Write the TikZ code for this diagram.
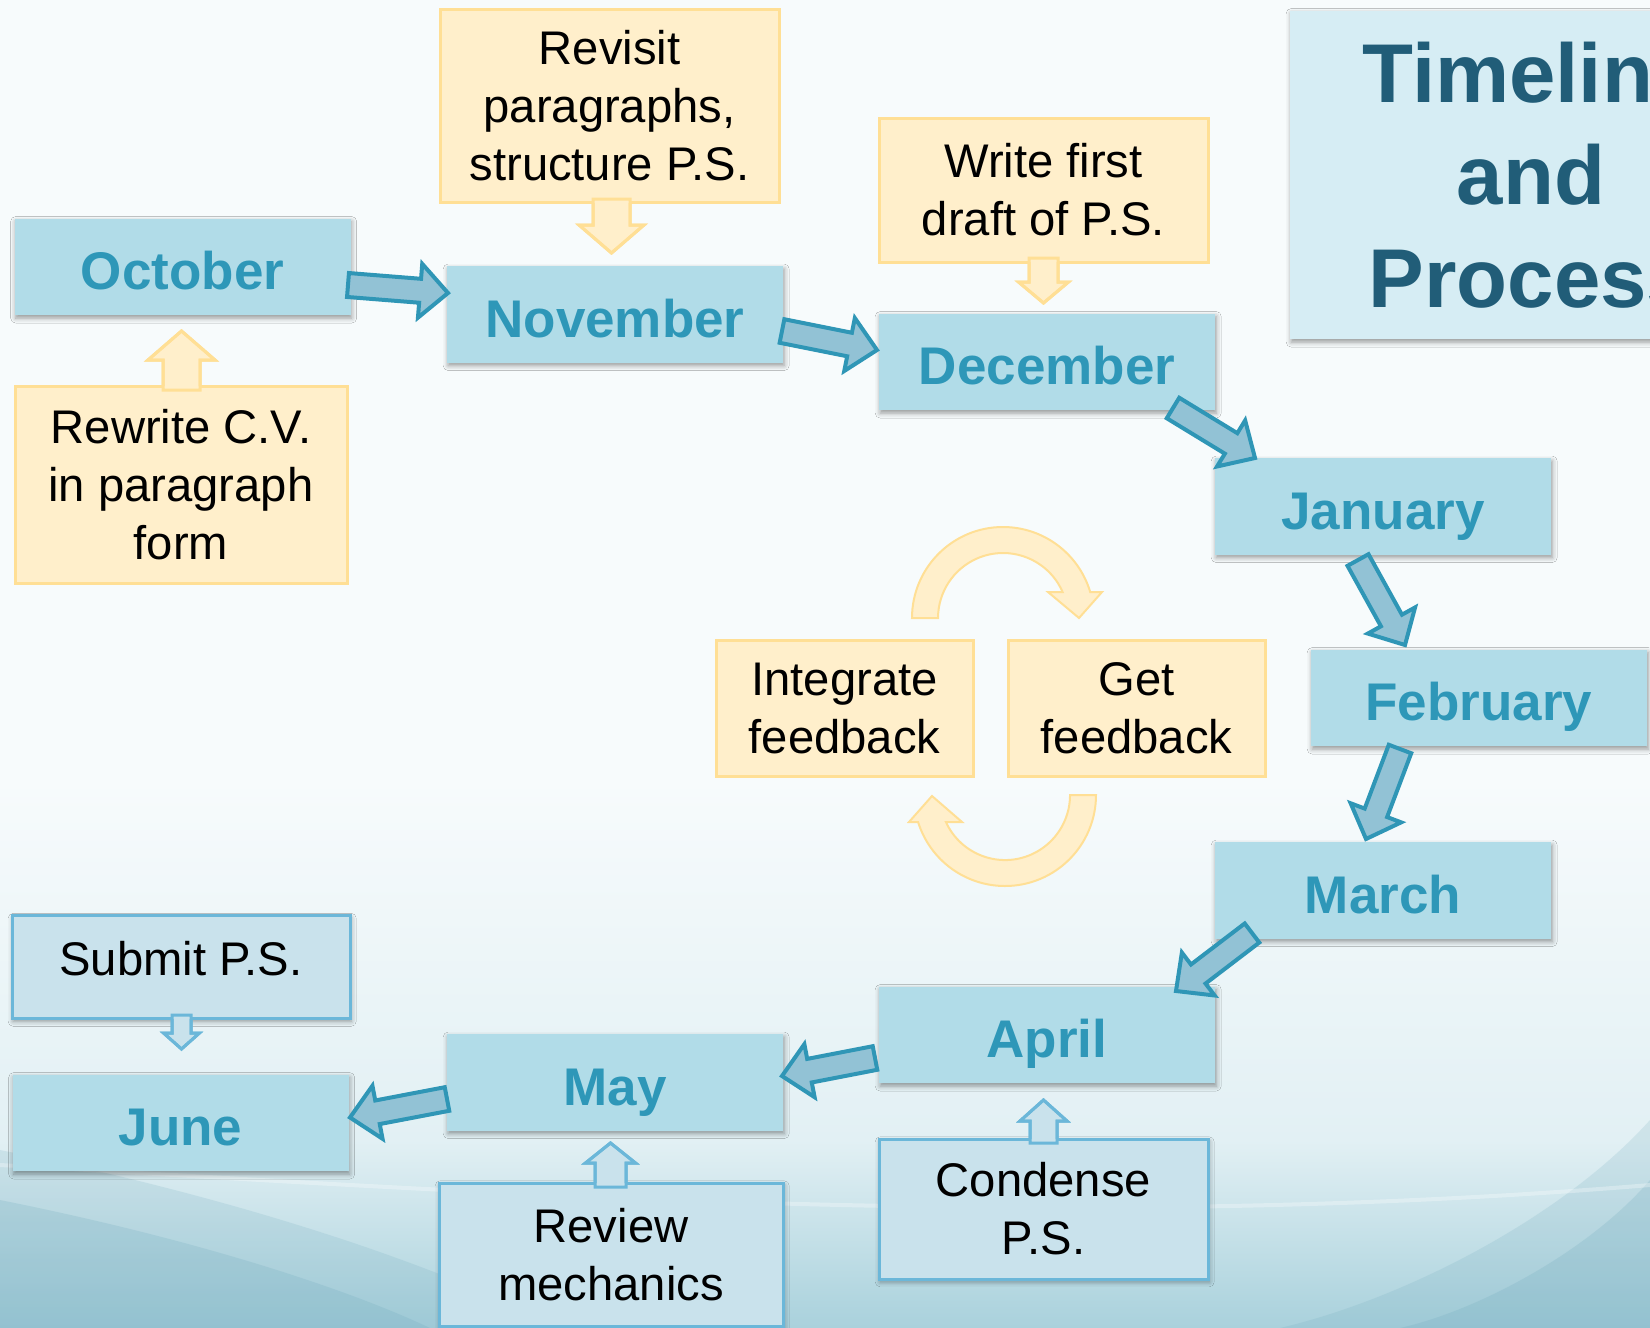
\documentclass[tikz,border=0pt]{standalone}
\usepackage{fontspec}
\setmainfont{Liberation Sans}
\usetikzlibrary{calc,shadows.blur}
\definecolor{monthfill}{HTML}{B1DCE8}
\definecolor{monthtext}{HTML}{2E97B8}
\definecolor{arrfill}{HTML}{92C2D5}
\definecolor{arrdraw}{HTML}{2F96B6}
\definecolor{notefill}{HTML}{FFEFCB}
\definecolor{notedraw}{HTML}{FFDF95}
\definecolor{bnotefill}{HTML}{C9E2EC}
\definecolor{bnotedraw}{HTML}{6BB7D9}
\definecolor{titlefill}{HTML}{D6EDF4}
\definecolor{titletext}{HTML}{215D78}
\definecolor{bgtop}{HTML}{F7FBFC}
\definecolor{bgmid}{HTML}{E2F0F4}
\definecolor{bgbot}{HTML}{A9D1DC}
\definecolor{bgdark}{HTML}{6FA9BC}
\newcommand\bigarrow[2]{%
  \path ($(#2)!14pt!(#1)$) coordinate (ah);
  \filldraw[bigarr] ($(#1)!6pt!90:(#2)$) -- ($(ah)!6pt!90:(#2)$) -- ($(ah)!13.5pt!90:(#2)$) -- (#2)
    -- ($(ah)!13.5pt!-90:(#2)$) -- ($(ah)!6pt!-90:(#2)$) -- ($(#1)!6pt!-90:(#2)$) -- cycle;}
\newcommand\smallarrow[6]{%
  \path ($(#3)!#6!(#2)$) coordinate (ah) ($(#2)!-2pt!(#3)$) coordinate (at);
  \fill[#1] ($(at)!#4!90:(#3)$) -- ($(ah)!#4!90:(#3)$) -- ($(ah)!#5!90:(#3)$) -- (#3)
    -- ($(ah)!#5!-90:(#3)$) -- ($(ah)!#4!-90:(#3)$) -- ($(at)!#4!-90:(#3)$) -- cycle;
  \draw[#1,fill=none] ($(#2)!#4!90:(#3)$) -- ($(ah)!#4!90:(#3)$) -- ($(ah)!#5!90:(#3)$) -- (#3)
    -- ($(ah)!#5!-90:(#3)$) -- ($(ah)!#4!-90:(#3)$) -- ($(#2)!#4!-90:(#3)$);}
\begin{document}
\begin{tikzpicture}[x=0.5pt,y=-0.5pt,
  boxshadow/.style={blur shadow={shadow xshift=0.6pt, shadow yshift=-1.4pt, shadow blur radius=2.5pt, shadow opacity=40}},
  month/.style={rectangle, inner sep=0pt, minimum width=168pt, minimum height=48.25pt, fill=monthfill,
    font=\bfseries\fontsize{26.5pt}{32pt}\selectfont, text=monthtext, text height=22.5pt, text depth=0pt, boxshadow},
  note/.style={rectangle, inner sep=0pt, fill=notefill, draw=notedraw, line width=1.5pt, align=center,
    font=\fontsize{23.6pt}{29pt}\selectfont, text=black},
  bnote/.style={rectangle, inner sep=0pt, fill=bnotefill, draw=bnotedraw, line width=1.5pt, align=center,
    font=\fontsize{23.6pt}{29pt}\selectfont, text=black, boxshadow},
  titlebox/.style={rectangle, inner sep=0pt, fill=titlefill, align=center, minimum width=241pt, minimum height=164.25pt,
    font=\bfseries\fontsize{41.7pt}{51.25pt}\selectfont, text=titletext, boxshadow},
  bigarr/.style={fill=arrfill, draw=arrdraw, line width=2pt, line join=miter},
  yarr/.style={fill=notefill, draw=notedraw, line width=1.5pt, line join=miter},
  barr/.style={fill=bnotefill, draw=bnotedraw, line width=1.5pt, line join=miter},
  circarr/.style={fill=notefill, draw=notedraw, line width=1pt}]
\useasboundingbox (0,0) rectangle (1650,1328);
\clip (0,0) rectangle (1650,1328);
% background
\fill[bgtop] (0,0) rectangle (1650,1328);
\shade[top color=bgtop, bottom color=bgmid] (0,780) rectangle (1650,1140.5);
\shade[top color=bgmid, bottom color=bgbot] (0,1140) rectangle (1650,1328);
\fill[bgdark, opacity=0.18] (0,1150) .. controls (250,1200) and (450,1270) .. (560,1328) -- (0,1328) -- cycle;
\fill[bgdark, opacity=0.22] (0,1200) .. controls (200,1240) and (350,1290) .. (430,1328) -- (0,1328) -- cycle;
\fill[bgdark, opacity=0.18] (1650,1120) .. controls (1560,1220) and (1400,1300) .. (1280,1328) -- (1650,1328) -- cycle;
\fill[bgdark, opacity=0.22] (1650,1180) .. controls (1590,1250) and (1480,1310) .. (1400,1328) -- (1650,1328) -- cycle;
\draw[white, opacity=0.3, line width=2pt] (0,1165) .. controls (450,1190) and (1050,1235) .. (1650,1185);

% title
\node[titlebox] (title) at (1531,175) {Timeline\\and\\Process};

% months
\node[month] (oct) at (182.5,267) {October};
\node[month] (nov) at (615,314.5) {November};
\node[month] (dec) at (1047,362) {December};
\node[month] (jan) at (1383,506.5) {January};
\node[month] (feb) at (1479,698) {February};
\node[month] (mar) at (1383,890.5) {March};
\node[month] (apr) at (1047,1035) {April};
\node[month] (may) at (615,1082.5) {May};
\node[month] (jun) at (180.5,1123) {June};

% notes
\node[note, minimum width=169.5pt, minimum height=96.75pt] (revisit) at (609.5,106) {Revisit\\paragraphs,\\structure P.S.};
\node[note, minimum width=164.5pt, minimum height=72pt] (writefirst) at (1043.5,190) {Write first\\draft of P.S.};
\node[note, minimum width=166pt, minimum height=98.5pt] (rewrite) at (181,484.5) {Rewrite C.V.\\in paragraph\\form};
\node[note, minimum width=128.5pt, minimum height=68pt] (integrate) at (844.5,708) {Integrate\\feedback};
\node[note, minimum width=128.5pt, minimum height=68pt] (getfb) at (1136.5,708) {Get\\feedback};
\node[bnote, minimum width=169pt, minimum height=51.5pt, text height=16pt, text depth=8pt] (submit) at (181,967) {Submit P.S.};
\node[bnote, minimum width=164.5pt, minimum height=70pt] (condense) at (1043.5,1209) {Condense\\P.S.};
\node[bnote, minimum width=172pt, minimum height=71.5pt] (review) at (611,1254.5) {Review\\mechanics};

% big arrows between months
\coordinate (a1) at (348,285);    \coordinate (b1) at (448,293);
\coordinate (a2) at (782,331);    \coordinate (b2) at (877,350);
\coordinate (a3) at (1173,408);   \coordinate (b3) at (1255,458);
\coordinate (a4) at (1358,560);   \coordinate (b4) at (1405,645);
\coordinate (a5) at (1400,749);   \coordinate (b5) at (1366,839);
\coordinate (a6) at (1252,933);   \coordinate (b6) at (1176,991);
\coordinate (a7) at (875,1058);   \coordinate (b7) at (782,1076);
\coordinate (a8) at (447,1099);   \coordinate (b8) at (350,1117.5);
\bigarrow{a1}{b1}
\bigarrow{a2}{b2}
\bigarrow{a3}{b3}
\bigarrow{a4}{b4}
\bigarrow{a5}{b5}
\bigarrow{a6}{b6}
\bigarrow{a7}{b7}
\bigarrow{a8}{b8}

% small arrows from notes
\coordinate (s1a) at (181.5,386);   \coordinate (s1b) at (181.5,331);
\coordinate (s2a) at (611.5,203);   \coordinate (s2b) at (611.5,253);
\coordinate (s3a) at (1043.5,262);  \coordinate (s3b) at (1043.5,303);
\coordinate (s4a) at (181.5,1019);  \coordinate (s4b) at (181.5,1049);
\coordinate (s5a) at (610.5,1183);  \coordinate (s5b) at (610.5,1143);
\coordinate (s6a) at (1043.5,1139); \coordinate (s6b) at (1043.5,1100);
\smallarrow{yarr}{s1a}{s1b}{9.25pt}{16.75pt}{14.5pt}
\smallarrow{yarr}{s2a}{s2b}{9.25pt}{16.25pt}{14pt}
\smallarrow{yarr}{s3a}{s3b}{7.25pt}{12.5pt}{10.5pt}
\smallarrow{barr}{s4a}{s4b}{4.75pt}{9pt}{8pt}
\smallarrow{barr}{s5a}{s5b}{7.75pt}{12.5pt}{10pt}
\smallarrow{barr}{s6a}{s6b}{6.75pt}{11.75pt}{10.5pt}

% feedback cycle arrows
\filldraw[circarr] (912,618) arc[start angle=180, end angle=343.4, radius=91] -- (1102,592) -- (1079,618) -- (1048,592)
  -- (1062.6,592) arc[start angle=336.4, end angle=180, radius=65] -- cycle;
\filldraw[circarr] (1096,795) arc[start angle=0, end angle=162.7, radius=91] -- (909,822) -- (932,796) -- (962,822)
  -- (945.9,822) arc[start angle=155.5, end angle=0, radius=65] -- cycle;
\end{tikzpicture}
\end{document}
